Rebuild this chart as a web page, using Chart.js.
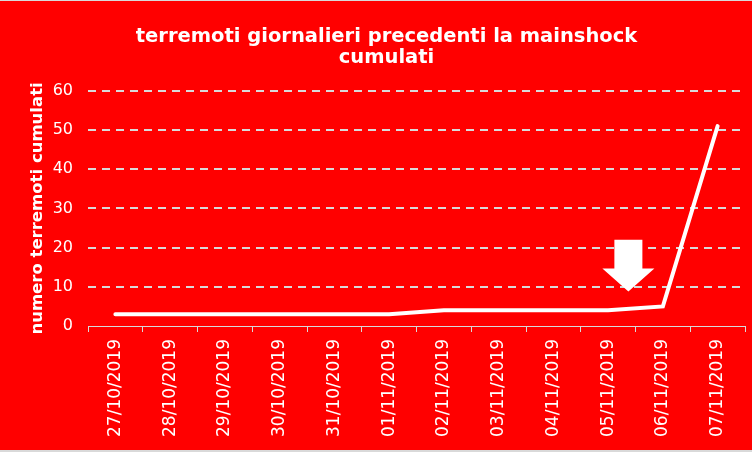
<!DOCTYPE html>
<html>
<head>
<meta charset="utf-8">
<script src="https://cdn.jsdelivr.net/npm/chart.js@4/dist/chart.umd.min.js"></script>
<style>
  html, body { margin: 0; padding: 0; background: #d9d9d9; }
  #wrap { position: absolute; left: 0; top: 1px; width: 752px; height: 449px; background: #ff0000; }
</style>
</head>
<body>
<div id="wrap"><canvas id="chart"></canvas></div>
<script>
const days = ['27/10/2019', '28/10/2019', '29/10/2019', '30/10/2019', '31/10/2019', '01/11/2019',
              '02/11/2019', '03/11/2019', '04/11/2019', '05/11/2019', '06/11/2019', '07/11/2019'];
const cumulati = [3, 3, 3, 3, 3, 3, 4, 4, 4, 4, 5, 51];
const yTicks = [0, 10, 20, 30, 40, 50, 60];

// freccia bianca che indica il giorno prima della mainshock
const arrowPlugin = {
  id: 'freccia',
  afterDatasetsDraw(chart) {
    const x = chart.scales.x, y = chart.scales.y;
    const cx = x.getPixelForValue(9.37);
    const top = y.getPixelForValue(22);
    const neck = y.getPixelForValue(14.7);
    const tip = y.getPixelForValue(8.8);
    const ctx = chart.ctx;
    ctx.save();
    ctx.fillStyle = '#ffffff';
    ctx.beginPath();
    ctx.moveTo(cx - 14, top);
    ctx.lineTo(cx + 14, top);
    ctx.lineTo(cx + 14, neck);
    ctx.lineTo(cx + 26, neck);
    ctx.lineTo(cx, tip);
    ctx.lineTo(cx - 26, neck);
    ctx.lineTo(cx - 14, neck);
    ctx.closePath();
    ctx.fill();
    ctx.restore();
  }
};

new Chart(document.getElementById('chart'), {
  type: 'line',
  data: {
    labels: days,
    datasets: [{
      data: cumulati,
      borderColor: '#ffffff',
      borderWidth: 4,
      pointRadius: 0,
      tension: 0,
      borderCapStyle: 'round'
    }]
  },
  options: {
    responsive: true,
    maintainAspectRatio: false,
    animation: false,
    layout: { padding: { left: 28, right: 7, top: 0, bottom: 0 } },
    plugins: {
      legend: { display: false },
      tooltip: { enabled: false },
      title: {
        display: true,
        text: ['terremoti giornalieri precedenti la mainshock', 'cumulati'],
        color: '#ffffff',
        font: { family: 'DejaVu Sans', size: 19.5, weight: 'bold', lineHeight: 1.1 },
        padding: { top: 25, bottom: 22 }
      }
    },
    scales: {
      x: {
        offset: true,
        grid: { display: true, drawOnChartArea: false, offset: true, color: '#d9d9d9', tickLength: 6 },
        border: { display: true, color: '#d9d9d9', width: 1 },
        ticks: {
          color: '#ffffff',
          font: { family: 'DejaVu Sans', size: 17 },
          minRotation: 90, maxRotation: 90,
          padding: 7,
          autoSkip: false
        },
        afterFit(s) { s.height = 124; }
      },
      y: {
        min: 0, max: 60,
        afterBuildTicks(s) { s.ticks = yTicks.map(v => ({ value: v })); },
        grid: { color: ctx => ctx.tick.value === 0 ? 'rgba(0,0,0,0)' : '#d9d9d9', lineWidth: 2, drawTicks: false },
        border: { display: false, dash: [8, 6] },
        ticks: { color: '#ffffff', font: { family: 'DejaVu Sans', size: 16 }, padding: 15 },
        title: {
          display: true,
          text: 'numero terremoti cumulati',
          color: '#ffffff',
          font: { family: 'DejaVu Sans', size: 16.5, weight: 'bold' },
          padding: { top: 0, bottom: 0 }
        },
        afterFit(s) { s.width = 60; }
      }
    }
  },
  plugins: [arrowPlugin]
});
</script>
</body>
</html>
